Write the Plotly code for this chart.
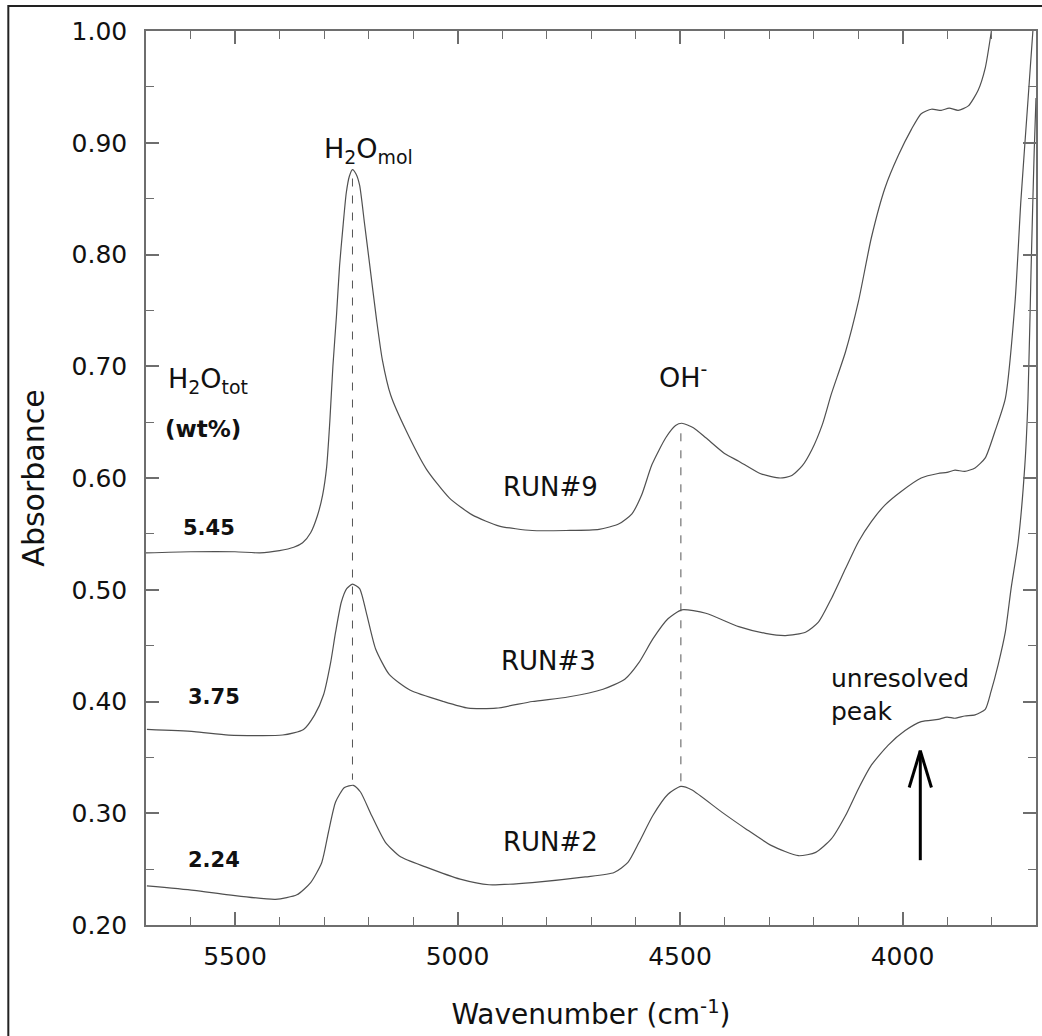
import plotly.graph_objects as go

# ---------------- data ----------------
run9_wn = [5700, 5600, 5500, 5444, 5400, 5368, 5348, 5330, 5315, 5303, 5294, 5287, 5280, 5272,
           5265, 5258, 5250, 5243, 5236, 5228, 5220, 5209, 5198, 5182, 5169, 5150, 5115, 5070,
           5018, 4967, 4906, 4832, 4756, 4682, 4637, 4608, 4586, 4563, 4532, 4510, 4496, 4470,
           4442, 4400, 4368, 4320, 4275, 4250, 4225, 4204, 4180, 4160, 4128, 4099, 4070, 4039,
           4009, 3980, 3958, 3935, 3913, 3895, 3875, 3852, 3830, 3814, 3801, 3795]
run9_abs = [0.533, 0.534, 0.534, 0.533, 0.535, 0.538, 0.542, 0.551, 0.566, 0.585, 0.610, 0.650,
            0.700, 0.745, 0.790, 0.822, 0.855, 0.870, 0.876, 0.872, 0.862, 0.828, 0.793, 0.742,
            0.706, 0.674, 0.642, 0.608, 0.582, 0.567, 0.557, 0.553, 0.553, 0.554, 0.559, 0.568,
            0.585, 0.612, 0.636, 0.647, 0.649, 0.645, 0.636, 0.622, 0.615, 0.604, 0.600, 0.602,
            0.611, 0.625, 0.648, 0.675, 0.713, 0.758, 0.815, 0.860, 0.889, 0.912, 0.926, 0.930,
            0.929, 0.931, 0.929, 0.933, 0.947, 0.967, 0.998, 1.015]

run3_wn = [5698, 5592, 5514, 5393, 5346, 5321, 5301, 5285, 5274, 5261, 5249, 5236, 5220, 5204,
           5184, 5153, 5106, 5032, 4976, 4913, 4832, 4752, 4673, 4624, 4592, 4561, 4527, 4496,
           4442, 4368, 4308, 4263, 4218, 4189, 4160, 4128, 4099, 4070, 4039, 4003, 3958, 3920,
           3900, 3882, 3860, 3837, 3814, 3792, 3769, 3747, 3734, 3718, 3707, 3700]
run3_abs = [0.375, 0.373, 0.370, 0.370, 0.375, 0.388, 0.406, 0.435, 0.462, 0.489, 0.501, 0.505,
            0.501, 0.478, 0.447, 0.424, 0.410, 0.400, 0.394, 0.394, 0.400, 0.404, 0.411, 0.420,
            0.435, 0.456, 0.474, 0.482, 0.479, 0.467, 0.461, 0.459, 0.462, 0.471, 0.492, 0.519,
            0.543, 0.561, 0.576, 0.588, 0.600, 0.604, 0.605, 0.607, 0.606, 0.609, 0.618, 0.642,
            0.671, 0.758, 0.848, 0.938, 1.000, 1.036]

run2_wn = [5698, 5592, 5514, 5409, 5361, 5330, 5305, 5290, 5274, 5254, 5234, 5218, 5193, 5162,
           5128, 5072, 4994, 4929, 4832, 4713, 4648, 4617, 4592, 4561, 4527, 4498, 4474, 4406,
           4352, 4294, 4234, 4195, 4160, 4128, 4099, 4070, 4032, 3994, 3958, 3920, 3900, 3882,
           3860, 3837, 3814, 3801, 3785, 3769, 3756, 3740, 3725, 3718, 3711, 3704, 3700]
run2_abs = [0.235, 0.231, 0.227, 0.223, 0.227, 0.238, 0.256, 0.283, 0.310, 0.323, 0.325, 0.319,
            0.298, 0.274, 0.261, 0.252, 0.241, 0.236, 0.238, 0.243, 0.247, 0.256, 0.274, 0.298,
            0.317, 0.324, 0.321, 0.301, 0.286, 0.271, 0.262, 0.265, 0.277, 0.298, 0.322, 0.343,
            0.361, 0.374, 0.382, 0.384, 0.386, 0.385, 0.387, 0.388, 0.393, 0.409, 0.433, 0.462,
            0.501, 0.543, 0.612, 0.671, 0.788, 0.893, 0.940]

series_names = ["RUN#9", "RUN#3", "RUN#2"]
water_totals = ["5.45", "3.75", "2.24"]
x_ticks = [5500, 5000, 4500, 4000]
y_ticks = [0.2, 0.3, 0.4, 0.5, 0.6, 0.7, 0.8, 0.9, 1.0]
peak_h2o_mol = 5236
peak_oh = 4498

FONT = "DejaVu Sans"
LINE = "#505050"
AX = "#6e6e6e"

fig = go.Figure()
for wn, ab, name in [(run9_wn, run9_abs, series_names[0]),
                     (run3_wn, run3_abs, series_names[1]),
                     (run2_wn, run2_abs, series_names[2])]:
    fig.add_trace(go.Scatter(x=wn, y=ab, mode="lines", name=name,
                             line=dict(color=LINE, width=1.2, shape="spline", smoothing=0.6),
                             showlegend=False, hoverinfo="skip"))

# dashed peak guides
fig.add_shape(type="line", xref="x", yref="y", x0=peak_h2o_mol, x1=peak_h2o_mol,
              y0=0.868, y1=0.330, line=dict(color="#555", width=1, dash="8px,9px"), layer="below")
fig.add_shape(type="line", xref="x", yref="y", x0=peak_oh, x1=peak_oh,
              y0=0.640, y1=0.326, line=dict(color="#555", width=1, dash="8px,9px"), layer="below")

# arrow for unresolved peak
ax_x = 3960
fig.add_shape(type="line", xref="x", yref="y", x0=ax_x, x1=ax_x, y0=0.258, y1=0.356,
              line=dict(color="black", width=3))
fig.add_shape(type="line", xref="x", yref="y", x0=ax_x, x1=3985, y0=0.356, y1=0.323,
              line=dict(color="black", width=3))
fig.add_shape(type="line", xref="x", yref="y", x0=ax_x, x1=3935, y0=0.356, y1=0.323,
              line=dict(color="black", width=3))

# outer frame (only left & top visible in reference)
fig.add_shape(type="rect", xref="paper", yref="paper", x0=-0.1547, x1=1.3, y0=-0.4, y1=1.028,
              line=dict(color="#222", width=2))

def ann(text, x, y, size, bold=False, xanchor="center"):
    fig.add_annotation(text=text, x=x, y=y, xref="x", yref="y", showarrow=False,
                       xanchor=xanchor, yanchor="middle",
                       font=dict(family=FONT, size=size, color="#111",
                                 weight="bold" if bold else "normal"))

ann("H<sub>2</sub>O<sub>mol</sub>", 5200, 0.893, 27)
ann("OH<sup>-</sup>", 4494, 0.692, 27)
ann(series_names[0], 4792, 0.592, 26)
ann(series_names[1], 4796, 0.436, 26)
ann(series_names[2], 4792, 0.274, 26)
ann(water_totals[0], 5559, 0.555, 21, bold=True)
ann(water_totals[1], 5548, 0.404, 21, bold=True)
ann(water_totals[2], 5548, 0.2585, 21, bold=True)
ann("H<sub>2</sub>O<sub>tot</sub>", 5656, 0.687, 27, xanchor="left")
ann("(wt%)", 5572, 0.6435, 23, bold=True)
fig.add_annotation(text="unresolved<br>peak", x=4166, y=0.406, xref="x", yref="y",
                   showarrow=False, xanchor="left", yanchor="middle", align="left",
                   font=dict(family=FONT, size=25, color="#111"))

fig.update_layout(
    width=1042, height=1036,
    margin=dict(l=146, r=4, t=31, b=111),
    paper_bgcolor="white", plot_bgcolor="white",
    font=dict(family=FONT, color="#111"),
    xaxis=dict(range=[5700, 3700], tickvals=x_ticks, ticks="inside", ticklen=13, tickwidth=1.5,
               tickcolor=AX, showline=True, linecolor=AX, linewidth=1.5, mirror="ticks",
               showgrid=False, zeroline=False, tickfont=dict(family=FONT, size=25, color="#111"),
               ticklabelstandoff=8,
               minor=dict(dtick=100, tick0=0, ticks="inside", ticklen=8, tickwidth=1.2, tickcolor=AX),
               title=dict(text="Wavenumber (cm<sup>-1</sup>)", font=dict(family=FONT, size=28, color="#111"),
                          standoff=35)),
    yaxis=dict(range=[0.2, 1.0], tickvals=y_ticks, tickformat=".2f", ticks="inside", ticklen=13,
               tickwidth=1.5, tickcolor=AX, showline=True, linecolor=AX, linewidth=1.5, mirror="ticks",
               showgrid=False, zeroline=False, tickfont=dict(family=FONT, size=25, color="#111"),
               ticklabelstandoff=12,
               minor=dict(dtick=0.05, tick0=0, ticks="inside", ticklen=8, tickwidth=1.2, tickcolor=AX),
               title=dict(text="Absorbance", font=dict(family=FONT, size=30, color="#111"), standoff=18)),
)

fig.write_html("out.html", config={"displayModeBar": False},
               post_script="document.body.style.margin='0px';document.body.style.overflow='hidden';")
